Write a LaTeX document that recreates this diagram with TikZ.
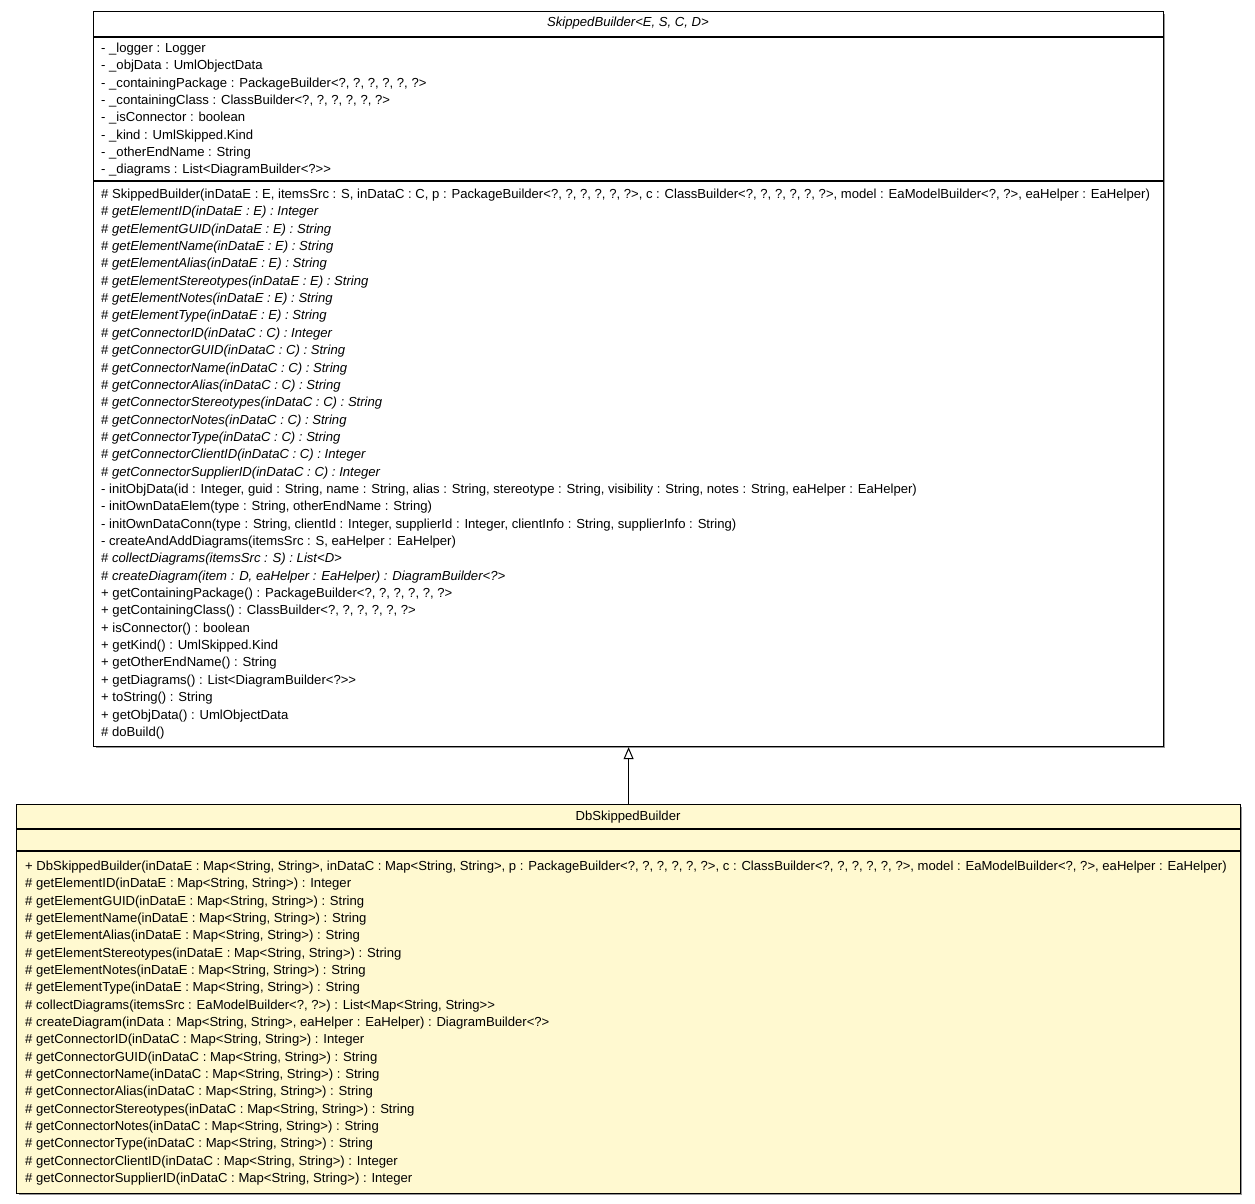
\documentclass[tikz,border=0pt]{standalone}
\usepackage{fontspec}
\setmainfont{Liberation Sans}[Ligatures=TeXOff]
\usetikzlibrary{arrows.meta}
\definecolor{classfill}{RGB}{255,249,208}
\definecolor{shadowgray}{RGB}{150,150,150}
\newcommand{\abs}[1]{\textit{#1}}
\begin{document}
\begin{tikzpicture}[x=1pt,y=-1pt,
  classbox/.style={draw=black, line width=1.2pt, anchor=north west, inner sep=0pt},
  member/.style={anchor=base west, inner sep=0pt, font=\fontsize{13.1}{15}\selectfont},
  ctitle/.style={anchor=base, inner sep=0pt, font=\fontsize{13.1}{15}\selectfont},
  divider/.style={draw=black, line width=1.2pt},
  inherit/.style={draw=black, line width=1pt, -{Triangle[open, length=12pt, width=10pt, line width=1pt]}}]
\useasboundingbox (0,0) rectangle (1255,1203);

% drop shadows
\fill[shadowgray] (96,14) rectangle (1165,748);
\fill[shadowgray] (19,807) rectangle (1242,1195);

% abstract base class
\node[classbox, fill=white, minimum width=1070pt, minimum height=735pt] (base) at (93,11) {};
\draw[divider] (93,37) -- (1163,37);
\draw[divider] (93,181) -- (1163,181);
\node[ctitle] (basetitle) at (628,26.5) {\abs{SkippedBuilder<E, S, C, D>}};

\foreach \t [count=\i from 0] in {
  {- \_logger : Logger},
  {- \_objData : UmlObjectData},
  {- \_containingPackage : PackageBuilder<?, ?, ?, ?, ?, ?>},
  {- \_containingClass : ClassBuilder<?, ?, ?, ?, ?, ?>},
  {- \_isConnector : boolean},
  {- \_kind : UmlSkipped.Kind},
  {- \_otherEndName : String},
  {- \_diagrams : List<DiagramBuilder<?>>}}
  \node[member] (ba\i) at (101,{52.5+17.33*\i}) {\t};

\foreach \t [count=\i from 0] in {
  {\# SkippedBuilder(inDataE : E, itemsSrc : S, inDataC : C, p : PackageBuilder<?, ?, ?, ?, ?, ?>, c : ClassBuilder<?, ?, ?, ?, ?, ?>, model : EaModelBuilder<?, ?>, eaHelper : EaHelper)},
  {\# \abs{getElementID(inDataE : E) : Integer}},
  {\# \abs{getElementGUID(inDataE : E) : String}},
  {\# \abs{getElementName(inDataE : E) : String}},
  {\# \abs{getElementAlias(inDataE : E) : String}},
  {\# \abs{getElementStereotypes(inDataE : E) : String}},
  {\# \abs{getElementNotes(inDataE : E) : String}},
  {\# \abs{getElementType(inDataE : E) : String}},
  {\# \abs{getConnectorID(inDataC : C) : Integer}},
  {\# \abs{getConnectorGUID(inDataC : C) : String}},
  {\# \abs{getConnectorName(inDataC : C) : String}},
  {\# \abs{getConnectorAlias(inDataC : C) : String}},
  {\# \abs{getConnectorStereotypes(inDataC : C) : String}},
  {\# \abs{getConnectorNotes(inDataC : C) : String}},
  {\# \abs{getConnectorType(inDataC : C) : String}},
  {\# \abs{getConnectorClientID(inDataC : C) : Integer}},
  {\# \abs{getConnectorSupplierID(inDataC : C) : Integer}},
  {- initObjData(id : Integer, guid : String, name : String, alias : String, stereotype : String, visibility : String, notes : String, eaHelper : EaHelper)},
  {- initOwnDataElem(type : String, otherEndName : String)},
  {- initOwnDataConn(type : String, clientId : Integer, supplierId : Integer, clientInfo : String, supplierInfo : String)},
  {- createAndAddDiagrams(itemsSrc : S, eaHelper : EaHelper)},
  {\# \abs{collectDiagrams(itemsSrc : S) : List<D>}},
  {\# \abs{createDiagram(item : D, eaHelper : EaHelper) : DiagramBuilder<?>}},
  {+ getContainingPackage() : PackageBuilder<?, ?, ?, ?, ?, ?>},
  {+ getContainingClass() : ClassBuilder<?, ?, ?, ?, ?, ?>},
  {+ isConnector() : boolean},
  {+ getKind() : UmlSkipped.Kind},
  {+ getOtherEndName() : String},
  {+ getDiagrams() : List<DiagramBuilder<?>>},
  {+ toString() : String},
  {+ getObjData() : UmlObjectData},
  {\# doBuild()}}
  \node[member] (bm\i) at (101,{198.5+17.35*\i}) {\t};

% concrete subclass
\node[classbox, fill=classfill, minimum width=1224pt, minimum height=389pt] (derived) at (16,804) {};
\draw[divider] (16,829) -- (1240,829);
\draw[divider] (16,851) -- (1240,851);
\node[ctitle] (derivedtitle) at (628,820.5) {DbSkippedBuilder};

\foreach \t [count=\i from 0] in {
  {+ DbSkippedBuilder(inDataE : Map<String, String>, inDataC : Map<String, String>, p : PackageBuilder<?, ?, ?, ?, ?, ?>, c : ClassBuilder<?, ?, ?, ?, ?, ?>, model : EaModelBuilder<?, ?>, eaHelper : EaHelper)},
  {\# getElementID(inDataE : Map<String, String>) : Integer},
  {\# getElementGUID(inDataE : Map<String, String>) : String},
  {\# getElementName(inDataE : Map<String, String>) : String},
  {\# getElementAlias(inDataE : Map<String, String>) : String},
  {\# getElementStereotypes(inDataE : Map<String, String>) : String},
  {\# getElementNotes(inDataE : Map<String, String>) : String},
  {\# getElementType(inDataE : Map<String, String>) : String},
  {\# collectDiagrams(itemsSrc : EaModelBuilder<?, ?>) : List<Map<String, String>>},
  {\# createDiagram(inData : Map<String, String>, eaHelper : EaHelper) : DiagramBuilder<?>},
  {\# getConnectorID(inDataC : Map<String, String>) : Integer},
  {\# getConnectorGUID(inDataC : Map<String, String>) : String},
  {\# getConnectorName(inDataC : Map<String, String>) : String},
  {\# getConnectorAlias(inDataC : Map<String, String>) : String},
  {\# getConnectorStereotypes(inDataC : Map<String, String>) : String},
  {\# getConnectorNotes(inDataC : Map<String, String>) : String},
  {\# getConnectorType(inDataC : Map<String, String>) : String},
  {\# getConnectorClientID(inDataC : Map<String, String>) : Integer},
  {\# getConnectorSupplierID(inDataC : Map<String, String>) : Integer}}
  \node[member] (dm\i) at (25,{870.5+17.33*\i}) {\t};

% generalization
\draw[inherit] (derived.north) -- (base.south);
\end{tikzpicture}
\end{document}
